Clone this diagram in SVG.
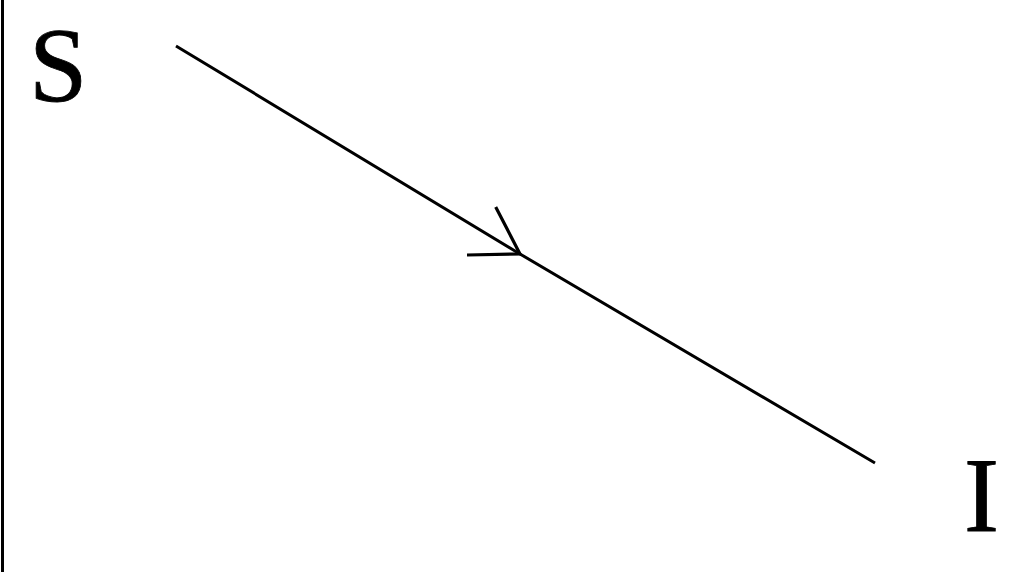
<svg xmlns="http://www.w3.org/2000/svg" width="1024" height="572" viewBox="0 0 1024 572">
<style>
.lbl{font-family:"Liberation Serif","Times New Roman",serif;font-size:105px;fill:#000;stroke:#000;stroke-width:0.8}
.edge{stroke:#000;stroke-width:3;fill:none}
</style>
<defs>
<marker id="arr" markerUnits="userSpaceOnUse" viewBox="-60 -40 80 80" markerWidth="80" markerHeight="80" refX="0" refY="0" orient="auto" overflow="visible">
<path d="M-45,-28 L0,0 L-45,28" fill="none" stroke="#000" stroke-width="3.2"/>
</marker>
</defs>
<rect width="1024" height="572" fill="#fff"/>
<line x1="2.5" y1="0" x2="2.5" y2="572" stroke="#000" stroke-width="3"/>
<g id="node-S"><text class="lbl" x="29" y="101">S</text></g>
<g id="node-I"><text class="lbl" x="964" y="531">I</text></g>
<g id="connectors">
<path class="edge" d="M176,46 L520,254 L875,463" marker-mid="url(#arr)"/>
</g>
</svg>
